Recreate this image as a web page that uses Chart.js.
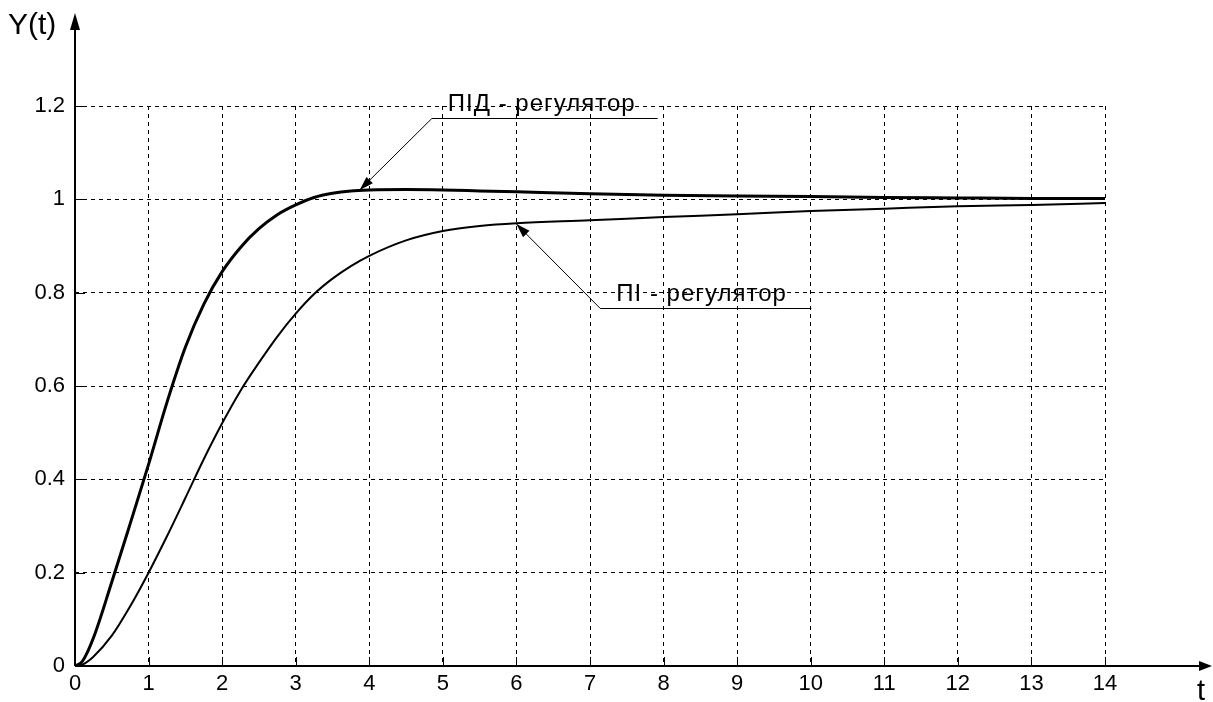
<!DOCTYPE html>
<html lang="uk">
<head>
  <meta charset="UTF-8" />
  <title>Перехідні характеристики</title>
  <style>
    body {
      margin: 0;
      padding: 0;
      background: #fff;
    }
    #wrap {
      width: 1213px;
      height: 702px;
    }
  </style>
</head>
<body>
  <div id="wrap"><canvas id="chart" width="1213" height="702"></canvas></div>

  <script src="https://cdn.jsdelivr.net/npm/chart.js"></script>
  <script>
    const times     = [0, 0.1, 0.25, 0.5, 0.75, 1, 1.25, 1.5, 1.75, 2, 2.25, 2.5, 2.75, 3, 3.25, 3.5, 3.75, 4, 4.5, 5, 5.5, 6, 7, 8, 9, 10, 11, 12, 13, 14];
    const pidValues = [0, 0.01, 0.06, 0.18, 0.305, 0.432, 0.565, 0.683, 0.775, 0.845, 0.897, 0.937, 0.967, 0.988, 1.004, 1.013, 1.018, 1.02, 1.021, 1.02, 1.018, 1.016, 1.012, 1.009, 1.007, 1.006, 1.004, 1.003, 1.002, 1.002];
    const piValues  = [0, 0.003, 0.02, 0.065, 0.128, 0.2, 0.278, 0.36, 0.443, 0.52, 0.59, 0.65, 0.706, 0.755, 0.797, 0.83, 0.857, 0.879, 0.912, 0.932, 0.943, 0.949, 0.955, 0.962, 0.968, 0.975, 0.98, 0.985, 0.988, 0.992];
    const xTicks = [0, 14];
    const yTicks = [0, 1.2];

    // callouts: arrow tip on the curve, elbow of leader line, end of the shelf (data units)
    const pidLabel = { text: "ПІД - регулятор", tip: [3.87, 1.02], elbow: [4.85, 1.175], end: 7.92 };
    const piLabel  = { text: "ПІ - регулятор",  tip: [6.0, 0.947], elbow: [7.14, 0.767], end: 10.01 };

    const FONT = '"Liberation Sans", Arial, sans-serif';

    function toPoints(vals) {
      return times.map((t, i) => ({ x: t, y: vals[i] }));
    }

    function arrowHead(ctx, x1, y1, x2, y2, len, half) {
      const a = Math.atan2(y2 - y1, x2 - x1);
      ctx.beginPath();
      ctx.moveTo(x2, y2);
      ctx.lineTo(x2 - len * Math.cos(a) + half * Math.sin(a), y2 - len * Math.sin(a) - half * Math.cos(a));
      ctx.lineTo(x2 - len * Math.cos(a) - half * Math.sin(a), y2 - len * Math.sin(a) + half * Math.cos(a));
      ctx.closePath();
      ctx.fill();
    }

    const decor = {
      id: "decor",
      afterDatasetsDraw(chart) {
        const ctx = chart.ctx;
        const xs = chart.scales.x, ys = chart.scales.y;
        const ox = Math.round(xs.getPixelForValue(0));
        const oy = Math.round(ys.getPixelForValue(0));
        ctx.save();
        ctx.strokeStyle = "#000";
        ctx.fillStyle = "#000";

        // axes with arrows
        ctx.lineWidth = 2;
        ctx.beginPath();
        ctx.moveTo(ox, oy);
        ctx.lineTo(ox, 28);
        ctx.moveTo(ox, oy);
        ctx.lineTo(1200, oy);
        ctx.stroke();
        arrowHead(ctx, ox, 40, ox, 13, 17, 5);
        arrowHead(ctx, 1180, oy, 1212, oy, 13, 5);

        // short solid ticks inside the plot
        ctx.lineWidth = 1;
        ctx.beginPath();
        ys.ticks.forEach(t => {
          const y = Math.round(ys.getPixelForValue(t.value)) + 0.5;
          ctx.moveTo(ox, y);
          ctx.lineTo(ox + 10, y);
        });
        xs.ticks.forEach(t => {
          const x = Math.round(xs.getPixelForValue(t.value)) + 0.5;
          ctx.moveTo(x, oy);
          ctx.lineTo(x, oy - 9);
        });
        ctx.stroke();

        // axis names
        ctx.font = "30px " + FONT;
        ctx.textBaseline = "alphabetic";
        ctx.textAlign = "left";
        ctx.fillText("Y(t)", 8, 34);
        ctx.font = "29px " + FONT;
        ctx.fillText("t", 1197, 700);

        // callouts
        [pidLabel, piLabel].forEach(c => {
          const tx = xs.getPixelForValue(c.tip[0]), ty = ys.getPixelForValue(c.tip[1]);
          const ex = xs.getPixelForValue(c.elbow[0]), ey = Math.round(ys.getPixelForValue(c.elbow[1])) + 0.5;
          const endx = xs.getPixelForValue(c.end);
          ctx.lineWidth = 1;
          ctx.beginPath();
          ctx.moveTo(endx, ey);
          ctx.lineTo(ex, ey);
          ctx.lineTo(tx, ty);
          ctx.stroke();
          arrowHead(ctx, ex, ey, tx, ty, 14, 4.5);
          ctx.font = "24px " + FONT;
          ctx.letterSpacing = "1px";
          ctx.fillText(c.text, ex + 16, ey - 8);
          ctx.letterSpacing = "0px";
        });
        ctx.restore();
      }
    };

    new Chart(document.getElementById("chart"), {
      type: "line",
      data: {
        datasets: [
          {
            label: "ПІД - регулятор",
            data: toPoints(pidValues),
            borderColor: "#000",
            borderWidth: 3,
            pointRadius: 0,
            cubicInterpolationMode: "monotone"
          },
          {
            label: "ПІ - регулятор",
            data: toPoints(piValues),
            borderColor: "#000",
            borderWidth: 2,
            pointRadius: 0,
            cubicInterpolationMode: "monotone"
          }
        ]
      },
      options: {
        responsive: false,
        animation: false,
        events: [],
        layout: { padding: { left: 0, right: 108, top: 106, bottom: 0 } },
        plugins: {
          legend: { display: false },
          tooltip: { enabled: false }
        },
        scales: {
          x: {
            type: "linear",
            min: xTicks[0],
            max: xTicks[1],
            afterFit: s => { s.height = 36; },
            ticks: {
              stepSize: 1,
              color: "#000",
              padding: 5,
              font: { family: FONT, size: 22 }
            },
            grid: { color: "#000", lineWidth: 1, drawTicks: false },
            border: { display: false, dash: [4, 4] }
          },
          y: {
            min: yTicks[0],
            max: yTicks[1],
            afterFit: s => { s.width = 75; },
            ticks: {
              stepSize: 0.2,
              color: "#000",
              padding: 10,
              font: { family: FONT, size: 22 },
              callback: v => String(Math.round(v * 10) / 10)
            },
            grid: { color: "#000", lineWidth: 1, drawTicks: false },
            border: { display: false, dash: [4, 4] }
          }
        }
      },
      plugins: [decor]
    });
  </script>
</body>
</html>
